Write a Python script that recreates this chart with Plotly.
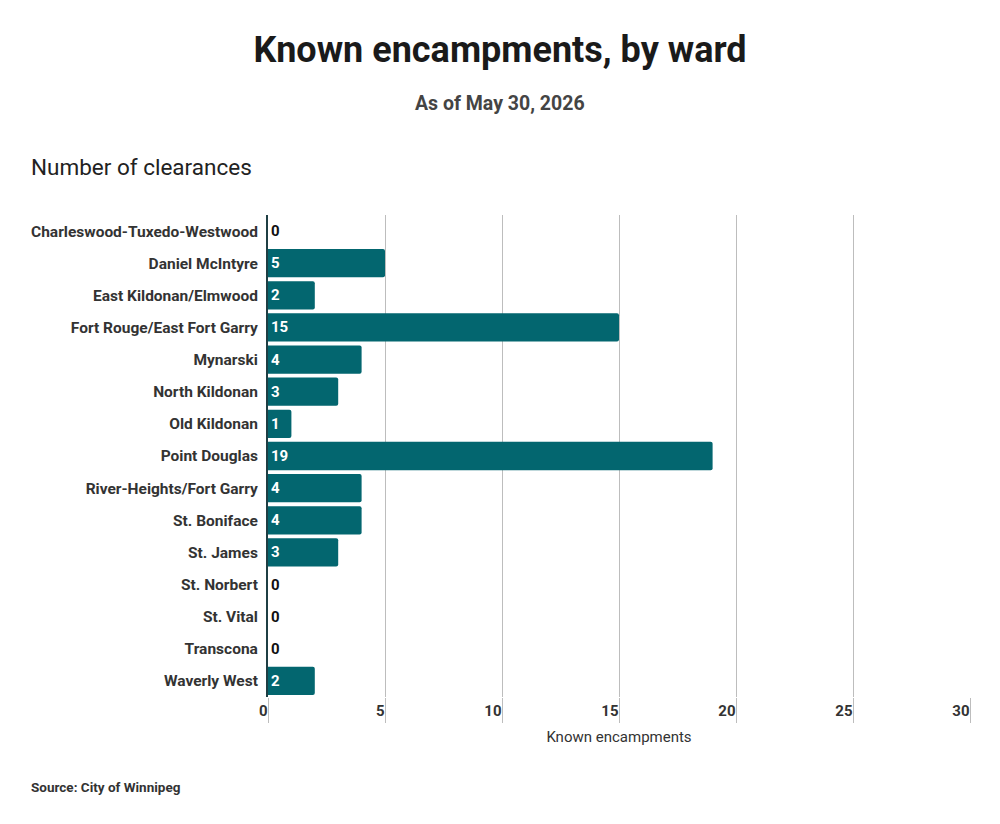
import plotly.graph_objects as go

wards = ["Charleswood-Tuxedo-Westwood", "Daniel McIntyre", "East Kildonan/Elmwood",
         "Fort Rouge/East Fort Garry", "Mynarski", "North Kildonan", "Old Kildonan",
         "Point Douglas", "River-Heights/Fort Garry", "St. Boniface", "St. James",
         "St. Norbert", "St. Vital", "Transcona", "Waverly West"]
encampments = [0, 5, 2, 15, 4, 3, 1, 19, 4, 4, 3, 0, 0, 0, 2]
x_ticks = [0, 5, 10, 15, 20, 25, 30]

# page offset of the plot div (browser body margin)
OFF = 8
W, H = 1000, 824
L, T = 268 - OFF, 215 - OFF
R = W - (970 - OFF)
B = H - (697 - OFF)
PW = W - L - R
PH = H - T - B

def px_x(px):
    return (px - OFF - L) / PW

def px_y(py):
    return 1 - (py - OFF - T) / PH

teal = "#03666f"
fig = go.Figure(go.Bar(
    y=wards, x=encampments, orientation="h",
    marker=dict(color=teal, line=dict(width=0)),
    text=[str(v) for v in encampments],
    textposition=["outside" if v == 0 else "inside" for v in encampments],
    insidetextanchor="start",
    textfont=dict(family="Roboto", size=15, color=["#111111" if v == 0 else "white" for v in encampments], weight="bold"),
    cliponaxis=False,
    hoverinfo="skip",
))

fig.update_layout(
    width=W, height=H,
    margin=dict(l=L, r=R, t=T, b=B),
    paper_bgcolor="white", plot_bgcolor="white",
    bargap=0.12,
    barcornerradius=2,
    showlegend=False,
    font=dict(family="Roboto", color="#333333"),
    title=dict(text="<b>Known encampments, by ward</b>", x=px_x(500), xanchor="center",
               xref="paper", y=1 - (49 - OFF) / H, yanchor="middle", yref="container",
               font=dict(family="Roboto", size=36, color="#1a1a1a")),
)

fig.update_xaxes(
    range=[0, 30], tickvals=x_ticks, ticktext=[str(t) for t in x_ticks],
    showgrid=True, gridcolor="#bdbdbd", gridwidth=1,
    zeroline=False, showline=False,
    ticks="outside", ticklen=25, tickcolor="#bdbdbd", tickwidth=1,
    ticklabelposition="outside left",
    tickfont=dict(family="Roboto", size=15, color="#333333", weight="bold"),
    title=dict(text="Known encampments", font=dict(family="Roboto", size=15, color="#333333"), standoff=12),
)
fig.update_yaxes(
    autorange="reversed",
    showgrid=False, showline=True, linecolor="#1f3f44", linewidth=2,
    ticks="", ticklabelstandoff=5,
    tickfont=dict(family="Roboto", size=15.5, color="#333333", weight="bold"),
)

fig.add_annotation(text="As of May 30, 2026", xref="paper", yref="paper",
                   x=px_x(500), y=px_y(104), xanchor="center", yanchor="middle",
                   showarrow=False, font=dict(family="Roboto", size=19.5, color="#444444", weight="bold"))
fig.add_annotation(text="Number of clearances", xref="paper", yref="paper",
                   x=px_x(29), y=px_y(167), xanchor="left", yanchor="middle",
                   showarrow=False, font=dict(family="Roboto", size=22.5, color="#222222"))
fig.add_annotation(text="Source: City of Winnipeg", xref="paper", yref="paper",
                   x=px_x(29), y=px_y(787), xanchor="left", yanchor="middle",
                   showarrow=False, font=dict(family="Roboto", size=13.5, color="#333333", weight="bold"))

fig.write_html("out.html")
